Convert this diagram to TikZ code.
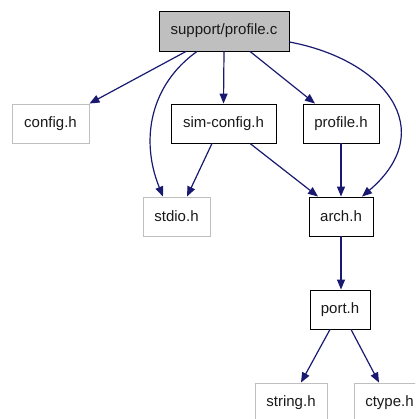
\documentclass[tikz,border=0pt]{standalone}
\usepackage{fontspec}
\setmainfont{Liberation Sans}
\usetikzlibrary{arrows.meta}
\definecolor{edgeblue}{HTML}{191970}
\definecolor{boxgrey}{HTML}{BFBFBF}
\begin{document}
\begin{tikzpicture}[x=1pt,y=-1pt,
  hbox/.style={draw=black,line width=0.9pt,rectangle,inner sep=0pt,minimum height=39pt,font=\fontsize{15}{18}\selectfont,text=black!90},
  extbox/.style={hbox,draw=boxgrey},
  rootbox/.style={hbox,fill=boxgrey,minimum height=40pt},
  dep/.style={draw=edgeblue,line width=1.2pt,-{Triangle[length=10pt,width=8pt]}}]
\useasboundingbox (0,0) rectangle (415,419);
\clip (0,0) rectangle (415,419);
\node[rootbox,minimum width=130pt] (root) at (224,31) {support/profile.c};
\node[extbox,minimum width=77pt] (config) at (50.5,123.5) {config.h};
\node[hbox,minimum width=105pt] (simcfg) at (223.5,123.5) {sim-config.h};
\node[hbox,minimum width=76pt] (profh) at (341,123.5) {profile.h};
\node[extbox,minimum width=67pt] (stdio) at (176.5,216.5) {stdio.h};
\node[hbox,minimum width=64pt] (arch) at (341,216.5) {arch.h};
\node[hbox,minimum width=60pt] (port) at (340,309.5) {port.h};
\node[extbox,minimum width=72pt] (string) at (291,402.5) {string.h};
\node[extbox,minimum width=71pt] (ctype) at (389.5,402.5) {ctype.h};
\draw[dep] ([xshift=-38pt]root.south) -- (config.north east);
\draw[dep] ([xshift=-27pt]root.south) .. controls (150,85) and (140,140) .. ([xshift=-13.5pt]stdio.north);
\draw[dep] (root.south) -- (simcfg.north);
\draw[dep] ([xshift=26pt]root.south) -- ([xshift=-26pt]profh.north);
\draw[dep] ([yshift=-11pt]root.east) .. controls (385,60) and (440,130) .. ([xshift=21pt]arch.north);
\draw[dep] ([xshift=-11.5pt]simcfg.south) -- ([xshift=10.5pt]stdio.north);
\draw[dep] ([xshift=26.5pt]simcfg.south) -- ([xshift=-23pt]arch.north);
\draw[dep] (profh.south) -- (arch.north);
\draw[dep] (arch.south) -- (port.north -| arch.south);
\draw[dep] ([xshift=-10pt]port.south) -- ([xshift=10pt]string.north);
\draw[dep] ([xshift=11pt]port.south) -- ([xshift=-10.5pt]ctype.north);
\end{tikzpicture}
\end{document}
